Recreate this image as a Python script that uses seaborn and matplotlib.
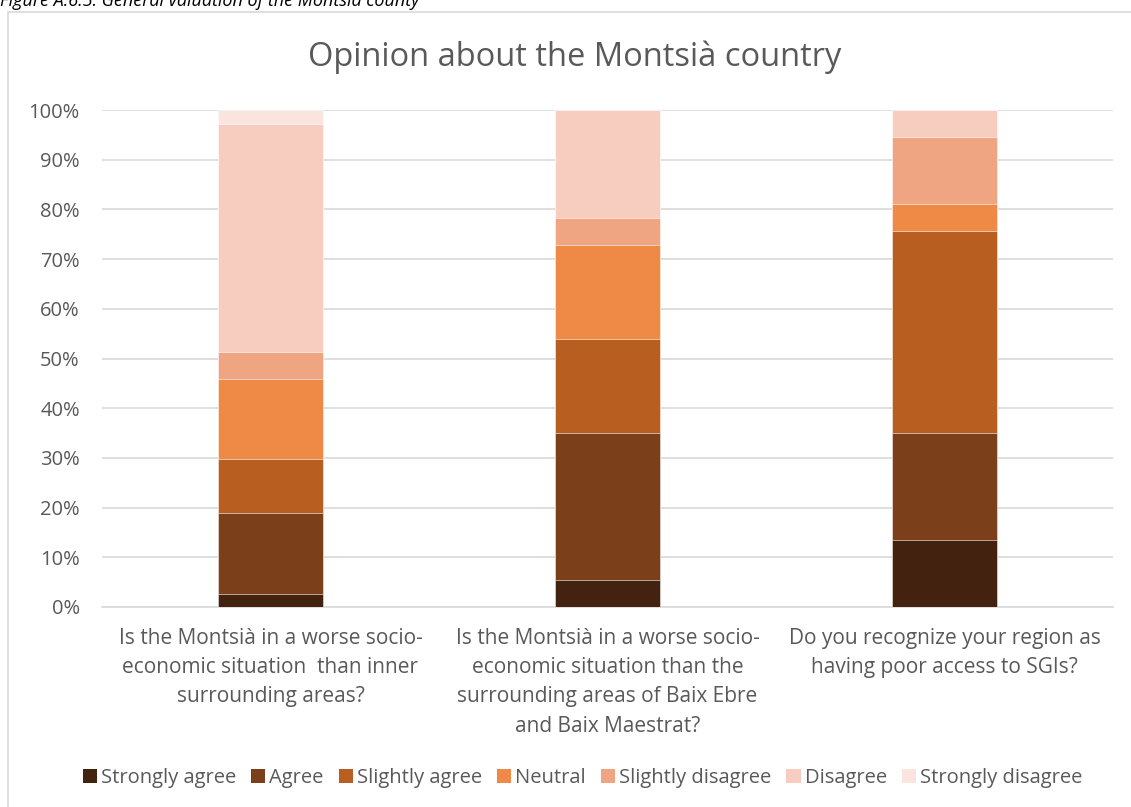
import numpy as np
import pandas as pd
import seaborn as sns
from matplotlib import pyplot as plt
from matplotlib.patches import Patch, Rectangle

# questions (x categories)
questions = [
    "Is the Montsià in a worse socio-\neconomic situation  than inner\nsurrounding areas?",
    "Is the Montsià in a worse socio-\neconomic situation than the\nsurrounding areas of Baix Ebre\nand Baix Maestrat?",
    "Do you recognize your region as\nhaving poor access to SGIs?",
]

# answer levels, bottom to top of the stack
levels = ["Strongly agree", "Agree", "Slightly agree", "Neutral",
          "Slightly disagree", "Disagree", "Strongly disagree"]
level_colors = ["#43230F", "#7B3F19", "#B85E21", "#EE8A46",
                "#F0A582", "#F7CDC0", "#FAE5DE"]

# share of answers (%) per level, one value per question
strongly_agree = [2.7, 5.4, 13.5]
agree = [16.2, 29.7, 21.6]
slightly_agree = [10.8, 18.9, 40.5]
neutral = [16.2, 18.9, 5.4]
slightly_disagree = [5.4, 5.4, 13.5]
disagree = [45.9, 21.6, 5.5]
strongly_disagree = [2.7, 0.0, 0.0]

series = [strongly_agree, agree, slightly_agree, neutral,
          slightly_disagree, disagree, strongly_disagree]

df = pd.DataFrame(np.array(series).T, columns=levels)
df.insert(0, "question", questions)
cum = df[levels].cumsum(axis=1)

sns.set_theme(style="white")
plt.rcParams["font.family"] = ["Open Sans", "DejaVu Sans"]
text_color = "#595959"
grid_color = "#D9D9D9"

fig = plt.figure(figsize=(11.31, 8.07), dpi=100)

# outer chart frame and cut-off caption
fig.patches.append(Rectangle((8 / 1131, -0.05), 1.2, 1.05 - 12 / 807,
                             transform=fig.transFigure, fill=False,
                             edgecolor=grid_color, linewidth=1.2))
fig.text(0.0, 0.993, "Figure A.6.5: General valuation of the Montsià county",
         fontsize=13, style="italic", color="black", va="baseline", ha="left")

ax = fig.add_axes([102 / 1131, 200 / 807, 1011 / 1131, 497 / 807])

# draw cumulative bars from the top level down so the lower ones sit in front
for lvl, col in zip(reversed(levels), reversed(level_colors)):
    sns.barplot(x=df["question"], y=cum[lvl], color=col, width=0.31,
                saturation=1, edgecolor="white", linewidth=0.4, ax=ax, zorder=3)

ax.set_ylim(0, 100)
ax.set_xlim(-0.5, 2.5)
ax.set_yticks(np.arange(0, 101, 10))
ax.set_yticklabels([f"{v}%" for v in range(0, 101, 10)])
ax.yaxis.grid(True, color=grid_color, linewidth=1.2, zorder=0)
ax.set_axisbelow(True)
for side in ["top", "right", "left"]:
    ax.spines[side].set_visible(False)
ax.spines["bottom"].set_color(grid_color)
ax.spines["bottom"].set_linewidth(1.2)
ax.tick_params(axis="both", length=0, colors=text_color)
ax.tick_params(axis="y", pad=16, labelsize=14.5)
ax.tick_params(axis="x", pad=15, labelsize=15)
for lab in ax.get_xticklabels():
    lab.set_linespacing(1.52)
    lab.set_verticalalignment("top")
ax.set_xlabel("")
ax.set_ylabel("")

fig.text(0.508, 0.929, "Opinion about the Montsià country", fontsize=23.5,
         color=text_color, ha="center", va="center")

handles = [Patch(facecolor=c, edgecolor="none", label=l)
           for l, c in zip(levels, level_colors)]
fig.legend(handles=handles, loc="center", bbox_to_anchor=(0.515, 0.036),
           ncol=7, frameon=False, fontsize=14.5, labelcolor=text_color,
           handlelength=0.7, handleheight=0.7, handletextpad=0.2,
           columnspacing=0.75)

fig.savefig("out.png", dpi=100)
